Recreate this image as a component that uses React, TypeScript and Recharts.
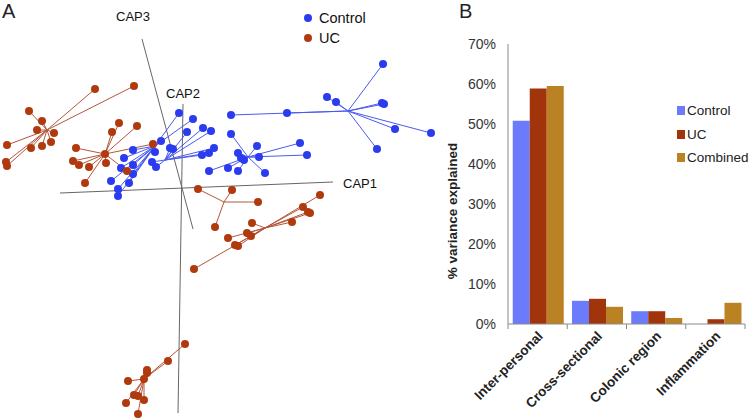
import {
  ScatterChart, Scatter, XAxis, YAxis, ReferenceLine, ReferenceDot,
  BarChart, Bar, Legend,
} from 'recharts';

// Panel A: CAP ordination, coordinates
type Pt = [number, number, number]; // x, y, cluster index

const ucCentroids: [number, number][] = [[47, 130], [105, 154], [224, 202], [265, 228], [144, 379]];
const controlCentroids: [number, number][] = [[155, 146], [165, 160], [248, 157], [348, 111]];

const ucPoints: Pt[] = [
  [95, 89, 0], [134, 86, 0], [29, 111, 0], [42, 121, 0], [37, 130, 0], [54, 133, 0],
  [51, 142, 0], [42, 146, 0], [31, 148, 0], [7, 145, 0], [6, 162, 0], [7, 166, 0],
  [105, 154, 1], [119, 123, 1], [137, 126, 1], [112, 132, 1], [76, 148, 1], [73, 161, 1],
  [79, 165, 1], [89, 167, 1], [106, 163, 1], [85, 183, 1], [153, 144, 1], [127, 171, 1],
  [198, 189, 2], [232, 190, 2], [258, 202, 2], [215, 227, 2],
  [320, 195, 3], [303, 207, 3], [308, 212, 3], [310, 213, 3], [292, 222, 3], [252, 223, 3],
  [247, 233, 3], [251, 236, 3], [228, 238, 3], [235, 245, 3], [238, 246, 3], [194, 269, 3],
  [185, 344, 4], [168, 361, 4], [147, 370, 4], [147, 373, 4], [144, 379, 4], [128, 381, 4],
  [134, 395, 4], [138, 396, 4], [144, 400, 4], [126, 403, 4], [138, 414, 4],
];

const controlPoints: Pt[] = [
  [179, 113, 0], [193, 119, 0], [161, 141, 0], [133, 150, 0], [124, 158, 0], [133, 165, 0],
  [121, 168, 0], [133, 174, 0], [111, 181, 0], [129, 183, 0], [118, 189, 0], [118, 196, 0], [155, 152, 0],
  [187, 132, 1], [203, 128, 1], [211, 131, 1], [170, 148, 1], [173, 149, 1], [152, 162, 1],
  [156, 167, 1], [202, 155, 1], [209, 153, 1], [214, 148, 1],
  [231, 134, 2], [257, 146, 2], [238, 153, 2], [241, 158, 2], [244, 160, 2], [259, 157, 2],
  [300, 143, 2], [307, 155, 2], [209, 171, 2], [228, 168, 2], [238, 171, 2], [265, 173, 2],
  [383, 64, 3], [327, 97, 3], [336, 102, 3], [382, 103, 3], [384, 104, 3], [395, 129, 3],
  [431, 133, 3], [377, 149, 3], [231, 115, 3], [287, 113, 3],
];

const capAxes = [
  { name: 'CAP1', from: [60, 193], to: [333, 182], label: [343, 183], anchor: 'start' },
  { name: 'CAP2', from: [183, 104], to: [178, 413], label: [183, 93], anchor: 'middle' },
  { name: 'CAP3', from: [142, 39], to: [193, 229], label: [133, 16], anchor: 'middle' },
];

// Panel B: % variance explained
const categories = ['Inter-personal', 'Cross-sectional', 'Colonic region', 'Inflammation'];
const controlVar = [50.8, 5.8, 3.2, 0];
const ucVar = [58.9, 6.3, 3.2, 1.2];
const combinedVar = [59.5, 4.3, 1.5, 5.3];
const yTicks = [0, 10, 20, 30, 40, 50, 60, 70];
const seriesNames = ['Control', 'UC', 'Combined'];
const seriesColors = ['#6b7bfb', '#a2340c', '#ba8222'];

const BLUE = '#2b3cf0';
const RED = '#b03a0e';
const FONT = '"Liberation Sans", Arial, sans-serif';

const barData = categories.map((c, i) => ({
  name: c, Control: controlVar[i], UC: ucVar[i], Combined: combinedVar[i],
}));

const toXY = (pts: Pt[]) => pts.map(([x, y]) => ({ x, y }));

const Dot = (color: string) => (p: any) => <circle cx={p.cx} cy={p.cy} r={4} fill={color} />;

const CatTick = ({ x, y, payload, index }: any) => {
  const half = payload?.offset || 29.6;
  return (
    <g>
      <line x1={x - half} y1={y} x2={x - half} y2={y + 5} stroke="#8a8a8a" />
      {index === categories.length - 1 && <line x1={x + half} y1={y} x2={x + half} y2={y + 5} stroke="#8a8a8a" />}
      <text x={x + 6} y={y + 13} transform={`rotate(-45 ${x + 6} ${y + 13})`} textAnchor="end"
        fontSize={13.5} fontWeight="bold" fill="#222" fontFamily={FONT}>{payload.value}</text>
    </g>
  );
};

const YTitle = ({ viewBox }: any) => {
  const cx = viewBox.x - 1;
  const cy = 211;
  return (
    <text x={cx} y={cy} transform={`rotate(-90 ${cx} ${cy})`} textAnchor="middle"
      fontSize={13.5} fontWeight="bold" fill="#222" fontFamily={FONT}>% variance explained</text>
  );
};

const BarLegend = () => (
  <div style={{ fontFamily: FONT, fontSize: 13.5, color: '#222' }}>
    {seriesNames.map((n, i) => (
      <div key={n} style={{ display: 'flex', alignItems: 'center', height: 23.5 }}>
        <span style={{ width: 8, height: 9, background: seriesColors[i], marginRight: 2, display: 'inline-block' }} />
        {n}
      </div>
    ))}
  </div>
);

const ScatterLegend = () => (
  <div style={{ fontFamily: FONT, fontSize: 14.5, color: '#111', lineHeight: '20px' }}>
    {[['Control', BLUE], ['UC', RED]].map(([n, c]) => (
      <div key={n} style={{ display: 'flex', alignItems: 'center' }}>
        <span style={{ width: 8, height: 8, borderRadius: 4, background: c, marginRight: 7, display: 'inline-block' }} />
        {n}
      </div>
    ))}
  </div>
);

export default function App() {
  return (
    <div style={{ position: 'absolute', left: 0, top: 0, width: 750, height: 420, background: '#fff', fontFamily: FONT }}>
      <div style={{ position: 'absolute', left: 2, top: 0, fontSize: 20, color: '#222' }}>A</div>
      <div style={{ position: 'absolute', left: 459, top: 0, fontSize: 20, color: '#222' }}>B</div>
      <div style={{ position: 'absolute', left: 0, top: 0 }}>
        <ScatterChart width={460} height={420} margin={{ top: 0, right: 0, bottom: 0, left: 0 }}>
          <XAxis type="number" dataKey="x" domain={[0, 460]} hide />
          <YAxis type="number" dataKey="y" domain={[0, 420]} reversed hide />
          {capAxes.map(a => (
            <ReferenceLine key={a.name} segment={[{ x: a.from[0], y: a.from[1] }, { x: a.to[0], y: a.to[1] }]}
              stroke="#666" strokeWidth={1} ifOverflow="visible" />
          ))}
          {ucPoints.map(([x, y, c], i) => (
            <ReferenceLine key={'u' + i} segment={[{ x: ucCentroids[c][0], y: ucCentroids[c][1] }, { x, y }]}
              stroke="#b5563a" strokeWidth={1} ifOverflow="visible" />
          ))}
          {controlPoints.map(([x, y, c], i) => (
            <ReferenceLine key={'c' + i} segment={[{ x: controlCentroids[c][0], y: controlCentroids[c][1] }, { x, y }]}
              stroke="#4a5af0" strokeWidth={1} ifOverflow="visible" />
          ))}
          {capAxes.map(a => (
            <ReferenceDot key={a.name + 'l'} x={a.label[0]} y={a.label[1]} r={0} ifOverflow="visible"
              label={(p: any) => (
                <text x={p.viewBox.x} y={p.viewBox.y + 5} textAnchor={a.anchor as any} fontSize={13}
                  fill="#111" fontFamily={FONT}>{a.name}</text>
              )} />
          ))}
          <Scatter name="Control" data={toXY(controlPoints)} shape={Dot(BLUE)} isAnimationActive={false} />
          <Scatter name="UC" data={toXY(ucPoints)} shape={Dot(RED)} isAnimationActive={false} />
        </ScatterChart>
      </div>
      <div style={{ position: 'absolute', left: 304, top: 8 }}>
        <ScatterLegend />
      </div>
      <div style={{ position: 'absolute', left: 420, top: 0 }}>
        <BarChart width={330} height={420} data={barData} barCategoryGap="8%" barGap={0}
          margin={{ top: 44, right: 5, bottom: 0, left: 38 }}>
          <XAxis dataKey="name" height={96} tickSize={0} tickMargin={0} tickLine={false}
            axisLine={{ stroke: '#8a8a8a' }} tick={<CatTick />} interval={0} />
          <YAxis domain={[0, 70]} ticks={yTicks} width={50} tickLine={false} tickMargin={6}
            axisLine={{ stroke: '#8a8a8a' }} tickFormatter={(v: number) => v + '%'}
            tick={{ fontSize: 14, fill: '#333', fontFamily: FONT }} label={<YTitle />} />
          <Legend layout="vertical" align="center" verticalAlign="middle" content={<BarLegend />}
            wrapperStyle={{ left: 257, top: 99, width: 73 }} />
          {seriesNames.map((n, i) => (
            <Bar key={n} dataKey={n} fill={seriesColors[i]} isAnimationActive={false} />
          ))}
        </BarChart>
      </div>
    </div>
  );
}
